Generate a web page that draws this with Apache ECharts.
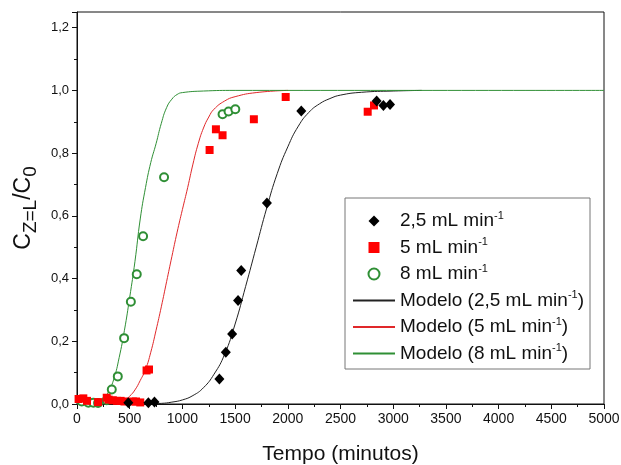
<!DOCTYPE html>
<html>
<head>
<meta charset="utf-8">
<script src="https://cdn.jsdelivr.net/npm/echarts@6/dist/echarts.min.js"></script>
<style>
  html, body { margin: 0; padding: 0; background: #fff; }
  #chart { width: 621px; height: 465px; }
</style>
</head>
<body>
<div id="chart"></div>
<script>
// dados experimentais [tempo (min), C/C0]
var exp25 = [[487, 0.004], [677, 0.004], [735, 0.006], [1351, 0.080], [1412, 0.165], [1472, 0.223],
  [1528, 0.330], [1558, 0.426], [1802, 0.641], [2128, 0.934], [2843, 0.966], [2907, 0.952], [2970, 0.955]];
var exp5 = [[15, 0.016], [60, 0.018], [95, 0.010], [200, 0.006], [282, 0.020], [300, 0.014], [340, 0.012],
  [380, 0.010], [414, 0.010], [450, 0.008], [530, 0.008], [560, 0.008], [600, 0.005], [660, 0.107],
  [683, 0.110], [1258, 0.810], [1318, 0.876], [1381, 0.857], [1678, 0.908], [1980, 0.979], [2758, 0.932], [2818, 0.952]];
var exp8 = [[45, 0.008], [108, 0.004], [155, 0.004], [200, 0.003], [282, 0.012], [330, 0.046], [387, 0.088],
  [447, 0.210], [511, 0.326], [567, 0.414], [627, 0.535], [826, 0.723], [1381, 0.924], [1438, 0.933], [1502, 0.940]];

// curvas do modelo
var mod25 = [[0, 0], [500, 0], [700, 0.001], [800, 0.002], [900, 0.006], [1000, 0.013], [1100, 0.027],
  [1200, 0.052], [1300, 0.095], [1400, 0.158], [1500, 0.255], [1600, 0.375], [1700, 0.5], [1800, 0.625],
  [1900, 0.735], [2000, 0.82], [2100, 0.886], [2200, 0.93], [2300, 0.957], [2400, 0.974], [2500, 0.985],
  [2700, 0.994], [3000, 0.998], [3270, 1.0]];
var mod5 = [[0, 0], [300, 0.001], [400, 0.006], [450, 0.012], [500, 0.025], [550, 0.045], [600, 0.075],
  [650, 0.11], [700, 0.165], [750, 0.235], [800, 0.31], [850, 0.39], [900, 0.47], [950, 0.548], [1000, 0.62],
  [1050, 0.69], [1100, 0.765], [1150, 0.83], [1200, 0.88], [1250, 0.915], [1300, 0.94], [1400, 0.966],
  [1500, 0.98], [1700, 0.993], [2000, 1.0]];
var mod8 = [[0, 0], [150, 0.001], [200, 0.004], [250, 0.012], [300, 0.04], [350, 0.08], [400, 0.148],
  [450, 0.235], [500, 0.34], [550, 0.455], [600, 0.59], [650, 0.69], [700, 0.77], [750, 0.83], [800, 0.895],
  [850, 0.945], [900, 0.972], [950, 0.987], [1000, 0.993], [1200, 0.998], [1500, 1.0], [5000, 1.0]];

var legendLabels = {
  '2,5 mL min-1': '{t|2,5 mL min}{s|-1}',
  '5 mL min-1': '{t|5 mL min}{s|-1}',
  '8 mL min-1': '{t|8 mL min}{s|-1}',
  'Modelo (2,5 mL min-1)': '{t|Modelo (2,5 mL min}{s|-1}{t|)}',
  'Modelo (5 mL min-1)': '{t|Modelo (5 mL min}{s|-1}{t|)}',
  'Modelo (8 mL min-1)': '{t|Modelo (8 mL min}{s|-1}{t|)}'
};

var font = "'Liberation Sans', Arial, sans-serif";
var chart = echarts.init(document.getElementById('chart'));

function modelLine(name, data, color) {
  return {
    name: name, type: 'line', data: data, symbol: 'none', smooth: 0.5,
    lineStyle: { color: color, width: 1 }, itemStyle: { color: color }, z: 2, silent: true
  };
}

var hideSym = { opacity: 0 };

chart.setOption({
  animation: false,
  backgroundColor: '#fff',
  textStyle: { fontFamily: font },
  grid: {
    left: 77, right: 17, top: 12, bottom: 61, outerBoundsMode: 'none', containLabel: false,
    show: true, borderColor: '#111', borderWidth: 1
  },
  legend: {
    orient: 'vertical', left: 345, top: 198,
    padding: [12, 6, 6, 7], itemGap: 6, itemWidth: 42, itemHeight: 11, symbolKeepAspect: true,
    borderColor: '#777', borderWidth: 1, backgroundColor: '#fff',
    data: [
      { name: '2,5 mL min-1', icon: 'path://M0.5,0L1,0.5L0.5,1L0,0.5Z', itemStyle: { color: '#000' } },
      { name: '5 mL min-1', icon: 'path://M0,0L1,0L1,1L0,1Z', itemStyle: { color: '#ff0000' } },
      { name: '8 mL min-1', icon: 'emptyCircle' },
      { name: 'Modelo (2,5 mL min-1)', itemStyle: hideSym },
      { name: 'Modelo (5 mL min-1)', itemStyle: hideSym },
      { name: 'Modelo (8 mL min-1)', itemStyle: hideSym }
    ],
    formatter: function (n) { return legendLabels[n]; },
    textStyle: {
      rich: {
        t: { fontSize: 19, fontFamily: font, color: '#111', lineHeight: 22 },
        s: { fontSize: 11, fontFamily: font, color: '#111', verticalAlign: 'top' }
      }
    }
  },
  xAxis: {
    type: 'value', min: 0, max: 5000, interval: 500,
    name: 'Tempo (minutos)', nameLocation: 'middle', nameGap: 40,
    nameTextStyle: { fontSize: 21, color: '#111', fontFamily: font },
    axisLine: { lineStyle: { color: '#111', width: 1 } },
    axisTick: { length: 5, lineStyle: { color: '#111' } },
    minorTick: { show: true, splitNumber: 2, length: 3, lineStyle: { color: '#111' } },
    axisLabel: {
      fontSize: 14, color: '#111', margin: 8, fontFamily: font,
      formatter: function (v) { return String(v); }
    },
    splitLine: { show: false }
  },
  yAxis: {
    type: 'value', min: 0, max: 1.25, interval: 0.2,
    name: '{c|C}{sub|Z=L}{c|/C}{sub|0}', nameLocation: 'middle', nameGap: 40,
    nameTextStyle: {
      rich: {
        c: { fontSize: 23, fontFamily: font, color: '#111', lineHeight: 26 },
        sub: { fontSize: 19, fontFamily: font, color: '#111', verticalAlign: 'bottom', padding: [0, 0, -3, 0] }
      }
    },
    axisLine: { lineStyle: { color: '#111', width: 1 } },
    axisTick: { length: 5, lineStyle: { color: '#111' } },
    minorTick: { show: true, splitNumber: 2, length: 3, lineStyle: { color: '#111' } },
    axisLabel: {
      fontSize: 13, color: '#111', margin: 8, showMaxLabel: false, fontFamily: font,
      formatter: function (v) { return v.toFixed(1).replace('.', ','); }
    },
    splitLine: { show: false }
  },
  series: [
    modelLine('Modelo (2,5 mL min-1)', mod25, '#222'),
    modelLine('Modelo (5 mL min-1)', mod5, '#e0282a'),
    modelLine('Modelo (8 mL min-1)', mod8, '#2f8f35'),
    {
      name: '2,5 mL min-1', type: 'scatter', data: exp25, symbol: 'diamond', symbolSize: [10, 11],
      itemStyle: { color: '#000', opacity: 1 }, z: 5
    },
    {
      name: '5 mL min-1', type: 'scatter', data: exp5, symbol: 'rect', symbolSize: 8,
      itemStyle: { color: '#ff0000', opacity: 1 }, z: 4
    },
    {
      name: '8 mL min-1', type: 'scatter', data: exp8, symbol: 'emptyCircle', symbolSize: 8,
      itemStyle: { color: '#2f8f35', borderWidth: 1, opacity: 1 }, z: 3
    }
  ]
});
</script>
</body>
</html>
